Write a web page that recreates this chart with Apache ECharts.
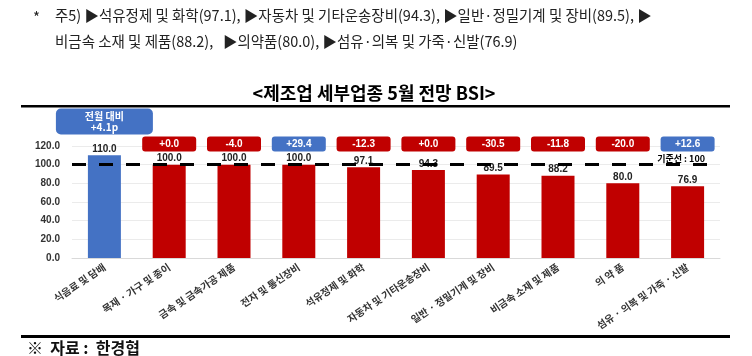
<!DOCTYPE html>
<html>
<head>
<meta charset="utf-8">
<script src="https://cdn.jsdelivr.net/npm/echarts@6/dist/echarts.min.js"></script>
<style>
html,body{margin:0;padding:0;background:#fff;}
#c{width:752px;height:356px;}
</style>
</head>
<body>
<div id="c"></div>
<script>
const categories = ['식음료 및 담배','목재 · 가구 및 종이','금속 및 금속가공 제품','전자 및 통신장비','석유정제 및 화학','자동차 및 기타운송장비','일반 · 정밀기계 및 장비','비금속 소재 및 제품','의 약 품','섬유 · 의복 및 가죽 · 신발'];
const bsiValues = [110.0, 100.0, 100.0, 100.0, 97.1, 94.3, 89.5, 88.2, 80.0, 76.9];
const monthChange = [4.1, 0.0, -4.0, 29.4, -12.3, 0.0, -30.5, -11.8, -20.0, 12.6];
const yTicks = {min: 0, max: 120, interval: 20};
const baseline = 100;
const noteLine1 = '주5) ▶석유정제 및 화학(97.1), ▶자동차 및 기타운송장비(94.3), ▶일반·정밀기계 및 장비(89.5), ▶';
const noteLine2 = '비금속 소재 및 제품(88.2),   ▶의약품(80.0), ▶섬유·의복 및 가죽·신발(76.9)';
const titleText = '<제조업 세부업종 5월 전망 BSI>';
const sourceText = '※  자료 :  한경협';

const RED = '#C00000', BLUE = '#4472C4';
const KR = '"Noto Sans CJK KR", sans-serif';

const chart = echarts.init(document.getElementById('c'), null, {renderer: 'canvas'});

function fmtDelta(v){ return (v > 0 || Object.is(v,0) ? '+' : '-') + Math.abs(v).toFixed(1); }

const option = {
  animation: false,
  backgroundColor: '#fff',
  textStyle: {fontFamily: KR},
  graphic: [
    {type:'text', x: 33, y: 10, style:{text:'*', font:'15px '+KR, fill:'#222'}},
    {type:'text', x: 55, y: 8, scaleX: 0.965, style:{text: noteLine1, font:'15px '+KR, fill:'#222'}},
    {type:'text', x: 55, y: 34, scaleX: 0.965, style:{text: noteLine2, font:'15px '+KR, fill:'#222'}},
    {type:'text', x: 374, y: 93, style:{text: titleText, font:'bold 18px '+KR, fill:'#000', align:'center', verticalAlign:'middle'}},
    {type:'rect', shape:{x:21, y:105, width:709, height:2.5}, style:{fill:'#000'}},
    {type:'rect', shape:{x:21, y:335, width:709, height:3}, style:{fill:'#000'}},
    {type:'text', x: 27, y: 348, style:{text: sourceText, font:'bold 16px '+KR, fill:'#111', verticalAlign:'middle'}}
  ],
  grid: {left: 72, right: 32, top: 146, bottom: 98},
  xAxis: {
    type: 'category',
    data: categories,
    axisTick: {show: false},
    axisLine: {show: true, lineStyle: {color: '#d9d9d9'}},
    axisLabel: {interval: 0, rotate: 34, margin: 8, fontSize: 10, fontWeight: 'bold', color: '#333', fontFamily: KR}
  },
  yAxis: {
    type: 'value',
    min: yTicks.min, max: yTicks.max, interval: yTicks.interval,
    axisLine: {show: false},
    axisTick: {show: false},
    splitLine: {lineStyle: {color: '#ebebeb'}},
    axisLabel: {margin: 12, fontSize: 10, fontWeight: 'bold', color: '#333', fontFamily: 'Arial, sans-serif', formatter: v => v.toFixed(1)}
  },
  series: [
    {
      type: 'bar',
      data: bsiValues.map((v,i) => ({value: v, itemStyle: {color: i === 0 ? BLUE : RED}})),
      barWidth: 33,
      label: {show: true, position: 'top', distance: 1, fontSize: 10, fontWeight: 'bold', color: '#222', fontFamily: 'Arial, sans-serif', formatter: p => p.value.toFixed(1)},
      markLine: {
        silent: true,
        symbol: 'none',
        z: 10,
        data: [{yAxis: baseline}],
        lineStyle: {color: '#000', width: 3, type: [14, 13]},
        label: {show: true, position: 'insideEndTop', distance: [15, 2], formatter: '기준선 : ' + baseline, fontSize: 9, fontWeight: 'bold', color: '#000', fontFamily: KR}
      }
    },
    {
      type: 'custom',
      clip: false,
      z: 5,
      data: monthChange.map((v,i) => [i, v]),
      renderItem: function(params, api){
        const i = api.value(0), d = api.value(1);
        const top = api.coord([i, yTicks.max]);
        const color = d > 0 ? BLUE : RED;
        if (i === 0) {
          const w = 97, h = 26;
          return {type:'group', children:[
            {type:'rect', shape:{x: top[0]-w/2, y: top[1]-37.5, width:w, height:h, r:5}, style:{fill: color}},
            {type:'text', style:{x: top[0], y: top[1]-24.5, text:'전월 대비\n+' + d.toFixed(1) + 'p', fill:'#fff', font:'bold 10px '+KR, align:'center', verticalAlign:'middle', lineHeight: 11}}
          ]};
        }
        const w = 54, h = 15;
        return {type:'group', children:[
          {type:'rect', shape:{x: top[0]-w/2, y: top[1]-9.5, width:w, height:h, r:3}, style:{fill: color}},
          {type:'text', style:{x: top[0], y: top[1]-2, text: fmtDelta(d), fill:'#fff', font:'bold 10px Arial, sans-serif', align:'center', verticalAlign:'middle'}}
        ]};
      }
    }
  ]
};
chart.setOption(option);
</script>
</body>
</html>
